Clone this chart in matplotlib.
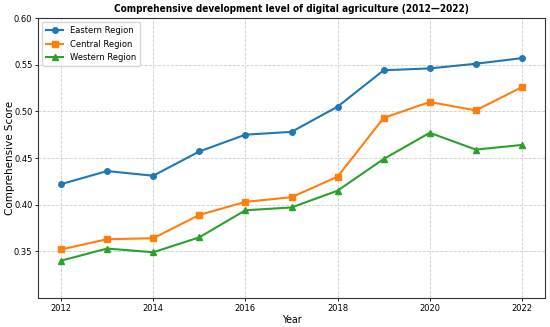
import matplotlib
matplotlib.use("Agg")
import matplotlib.pyplot as plt

years = [2012, 2013, 2014, 2015, 2016, 2017, 2018, 2019, 2020, 2021, 2022]
eastern = [0.422, 0.436, 0.431, 0.457, 0.475, 0.478, 0.505, 0.544, 0.546, 0.551, 0.557]
central = [0.352, 0.363, 0.364, 0.389, 0.403, 0.408, 0.430, 0.493, 0.510, 0.501, 0.526]
western = [0.340, 0.353, 0.349, 0.365, 0.394, 0.397, 0.415, 0.449, 0.477, 0.459, 0.464]
series_names = ["Eastern Region", "Central Region", "Western Region"]
title = "Comprehensive development level of digital agriculture (2012\u20142022)"

fig = plt.figure(figsize=(5.5, 3.27), dpi=100)
ax = fig.add_axes([38/550, 29/327, 507/550, 280/327])

ax.plot(years, eastern, marker='o', color='#1f77b4', lw=1.5, ms=4, label=series_names[0])
ax.plot(years, central, marker='s', color='#ff7f0e', lw=1.5, ms=4, label=series_names[1])
ax.plot(years, western, marker='^', color='#2ca02c', lw=1.5, ms=4, label=series_names[2])

ax.set_xlim(2011.5, 2022.5)
ax.set_ylim(0.30, 0.60)
ax.set_xticks([2012, 2014, 2016, 2018, 2020, 2022])
ax.set_yticks([0.35, 0.40, 0.45, 0.50, 0.55, 0.60])
ax.set_yticklabels([f"{v:.2f}" for v in [0.35, 0.40, 0.45, 0.50, 0.55, 0.60]])
ax.tick_params(labelsize=6, length=2.5, width=0.6, pad=1.5)
ax.grid(True, linestyle='--', color='#cccccc', linewidth=0.6)
for s in ax.spines.values():
    s.set_linewidth(0.8)
    s.set_color('#333333')

ax.set_title(title, fontsize=7.2, fontweight='bold', pad=4, fontstretch='condensed')
ax.set_xlabel("Year", fontsize=7.5, labelpad=2, fontstretch='condensed')
ax.set_ylabel("Comprehensive Score", fontsize=7.5)
ax.yaxis.set_label_coords(-0.045, 0.5)
ax.legend(loc='upper left', fontsize=6, frameon=True, handlelength=2, borderpad=0.5)

fig.savefig("out.png", dpi=100)
